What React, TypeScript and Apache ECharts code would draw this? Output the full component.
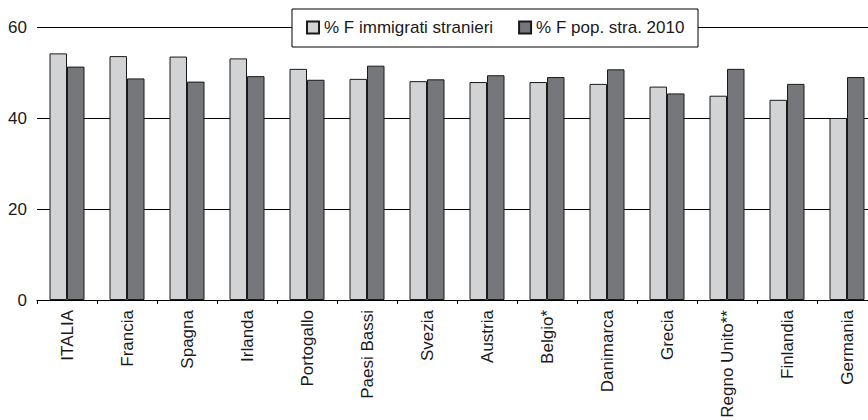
import React, { useEffect, useRef } from "react";
import * as echarts from "echarts";

const categories = [
  "ITALIA", "Francia", "Spagna", "Irlanda", "Portogallo", "Paesi Bassi", "Svezia",
  "Austria", "Belgio*", "Danimarca", "Grecia", "Regno Unito**", "Finlandia", "Germania",
];
const immigratiStranieri = [54.2, 53.6, 53.5, 53.1, 50.8, 48.6, 48.1, 47.9, 47.9, 47.5, 46.9, 44.9, 44.0, 40.0];
const popStra2010 = [51.3, 48.7, 48.0, 49.2, 48.4, 51.5, 48.5, 49.4, 49.0, 50.7, 45.4, 50.8, 47.5, 49.0];
const seriesNames = ["% F immigrati stranieri", "% F pop. stra. 2010"];
const yTicks = { min: 0, max: 60, interval: 20 };

const FONT = "'Liberation Sans', Arial, sans-serif";

export default function App() {
  const ref = useRef<HTMLDivElement>(null);
  useEffect(() => {
    if (!ref.current) return;
    const chart = echarts.init(ref.current, null, { renderer: "svg" });
    chart.setOption({
      animation: false,
      backgroundColor: "#ffffff",
      textStyle: { fontFamily: FONT },
      graphic: [
        {
          type: "rect",
          z: 3,
          shape: { x: 292, y: 9, width: 406, height: 38 },
          style: { fill: "#ffffff", stroke: "#000000", lineWidth: 1 },
        },
      ],
      legend: {
        z: 5,
        left: 306,
        top: 19,
        padding: 0,
        itemGap: 25,
        itemWidth: 12,
        itemHeight: 12,
        icon: "rect",
        textStyle: { fontFamily: FONT, fontSize: 17, color: "#1a1a1a" },
        data: seriesNames,
      },
      grid: {
        left: 37,
        right: -9,
        top: 27,
        bottom: 120,
        containLabel: false,
        outerBoundsMode: "none",
      },
      xAxis: {
        type: "category",
        data: categories,
        axisLine: { lineStyle: { color: "#000000", width: 1 } },
        axisTick: { show: true, length: 4, lineStyle: { color: "#000000" } },
        axisLabel: {
          rotate: 90,
          margin: 10,
          fontSize: 17,
          fontFamily: FONT,
          color: "#1a1a1a",
          interval: 0,
        },
      },
      yAxis: {
        type: "value",
        min: yTicks.min,
        max: yTicks.max,
        interval: yTicks.interval,
        axisLine: { show: false },
        axisTick: { show: false },
        axisLabel: { fontSize: 17, fontFamily: FONT, color: "#1a1a1a", margin: 10 },
        splitLine: { lineStyle: { color: "#000000", width: 1 } },
      },
      series: [
        {
          name: seriesNames[0],
          type: "bar",
          data: immigratiStranieri,
          barWidth: 17.5,
          barGap: "0%",
          itemStyle: { color: "#d2d3d5", borderColor: "#1a1a1a", borderWidth: 1 },
        },
        {
          name: seriesNames[1],
          type: "bar",
          data: popStra2010,
          barWidth: 17.5,
          barGap: "0%",
          itemStyle: { color: "#76777a", borderColor: "#1a1a1a", borderWidth: 1 },
        },
      ],
    });
    return () => chart.dispose();
  }, []);
  return <div ref={ref} style={{ width: 868, height: 420, position: "absolute", left: 0, top: 0 }} />;
}
